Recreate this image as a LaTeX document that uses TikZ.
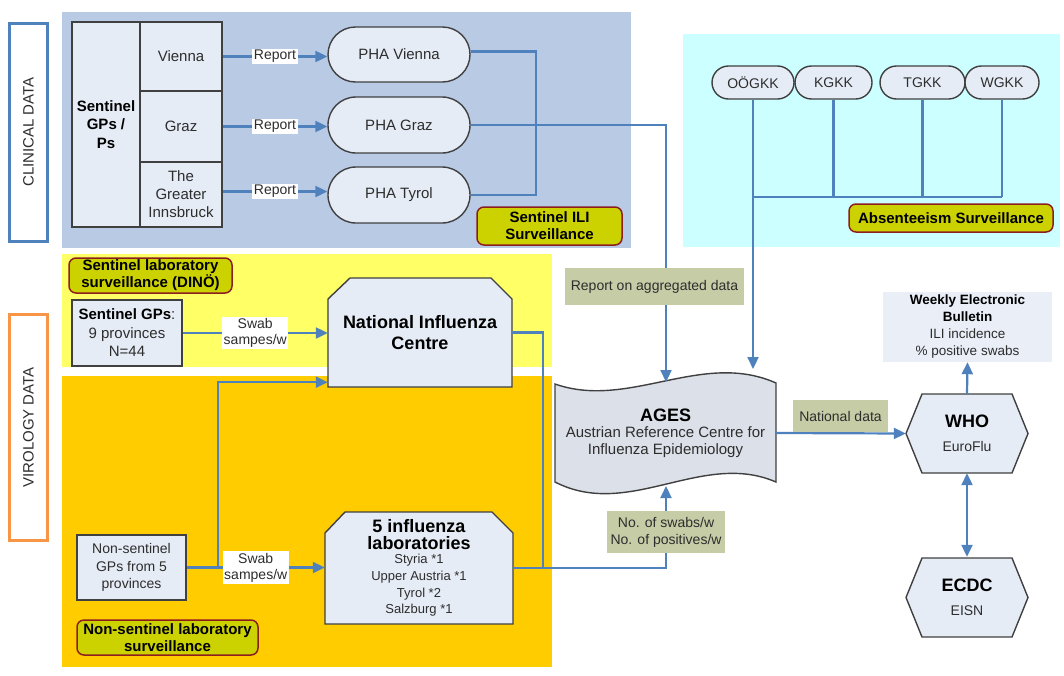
\documentclass[tikz,border=0pt]{standalone}
\usepackage{fontspec}
\setmainfont{Liberation Sans}
\usetikzlibrary{shapes.misc,arrows.meta,calc}
\definecolor{panelblue}{RGB}{184,202,228}
\definecolor{panelcyan}{RGB}{204,255,255}
\definecolor{panelyellow}{RGB}{255,255,102}
\definecolor{panelorange}{RGB}{255,204,0}
\definecolor{nodefill}{RGB}{230,236,246}
\definecolor{agesfill}{RGB}{220,224,232}
\definecolor{bullfill}{RGB}{233,238,247}
\definecolor{linkblue}{RGB}{79,129,189}
\definecolor{tagfill}{RGB}{204,210,0}
\definecolor{tagedge}{RGB}{140,30,30}
\definecolor{notefill}{RGB}{198,204,166}
\definecolor{edgegray}{RGB}{64,64,64}
\definecolor{txtgray}{RGB}{45,45,45}
\definecolor{clinblue}{RGB}{79,129,189}
\definecolor{virorange}{RGB}{247,150,70}
\newcommand\fsz[2]{\fontsize{#1}{#2}\selectfont}
\tikzset{
  box/.style={draw=edgegray, line width=1.4pt, fill=nodefill, inner sep=0pt, align=center, text=txtgray, font=\fsz{15}{18}},
  pill/.style={rounded rectangle, draw=edgegray, line width=1.4pt, fill=nodefill, inner sep=0pt, text=txtgray},
  tag/.style={rounded corners=7pt, draw=tagedge, line width=1.5pt, fill=tagfill, font=\bfseries\fsz{15}{17}, align=center, inner sep=0pt, text=black},
  note/.style={fill=notefill, font=\fsz{14}{17}, align=center, inner sep=0pt, text=txtgray},
  wlabel/.style={fill=white, font=\fsz{14}{16}, align=center, inner sep=1.5pt, text=txtgray},
  conn/.style={draw=linkblue, line width=2.2pt},
  arr/.style={conn, -{Triangle[length=12pt,width=11pt]}},
  outline/.style={draw=edgegray, line width=1.4pt, fill=nodefill},
  sidebox/.style={line width=3pt, fill=white, rotate=90, inner sep=0pt, text=txtgray, font=\fsz{15}{18}},
  hexa/.pic={\draw[outline] (-61,0) -- (-45,-39.5) -- (45,-39.5) -- (61,0) -- (45,39.5) -- (-45,39.5) -- cycle;}
}
\begin{document}
\begin{tikzpicture}[x=1pt,y=-1pt]
\useasboundingbox (0,0) rectangle (1064,675);
% panels
\fill[panelblue] (62,12) rectangle (631,248);
\fill[panelcyan] (683,34) rectangle (1060,247);
\fill[panelyellow] (62,254) rectangle (552,367);
\fill[panelorange] (62,376) rectangle (552,667);
% side boxes
\node[sidebox, draw=clinblue, minimum width=218, minimum height=38] (clin) at (28.5,132) {CLINICAL DATA};
\node[sidebox, draw=virorange, minimum width=226, minimum height=38] (viro) at (28.5,427.5) {VIROLOGY DATA};
% sentinel GP table
\node[box, minimum width=68, minimum height=205, font=\bfseries\fsz{15}{18.5}, text=black] (gps) at (106,124.5) {Sentinel\\GPs /\\Ps};
\node[box, minimum width=82, minimum height=69] (vienna) at (181,56.5) {Vienna};
\node[box, minimum width=82, minimum height=71] (graz) at (181,126.5) {Graz};
\node[box, minimum width=82, minimum height=65] (inn) at (181,194.5) {The\\Greater\\Innsbruck};
% PHA
\node[pill, minimum width=142, minimum height=55, font=\fsz{15}{18}] (phav) at (399,54.5) {PHA Vienna};
\node[pill, minimum width=142, minimum height=56, font=\fsz{15}{18}] (phag) at (399,125) {PHA Graz};
\node[pill, minimum width=142, minimum height=56, font=\fsz{15}{18}] (phat) at (399,195) {PHA Tyrol};
\draw[arr] (vienna.east) -- node[wlabel]{Report} (vienna.east -| phav.west);
\draw[arr] (graz.east) -- node[wlabel]{Report} (graz.east -| phag.west);
\draw[arr] ([yshift=3pt]inn.east) -- node[wlabel]{Report} ([yshift=3pt]inn.east -| phat.west);
\coordinate (bx) at (536,0);
\draw[conn] ([yshift=3pt]phav.east) -- ([yshift=3pt]phav.east -| bx) -- (phat.east -| bx) -- (phat.east);
\node[tag, minimum width=145, minimum height=38] (tili) at (549.5,226) {Sentinel ILI\\Surveillance};
% GKK
\node[pill, minimum width=82, minimum height=33, font=\fsz{14}{17}] (oo) at (753,82.5) {OÖGKK};
\node[pill, minimum width=77, minimum height=33, font=\fsz{14}{17}] (kg) at (833.5,82.5) {KGKK};
\node[pill, minimum width=85, minimum height=33, font=\fsz{14}{17}] (tg) at (922.5,82.5) {TGKK};
\node[pill, minimum width=74, minimum height=33, font=\fsz{14}{17}] (wg) at (1002,82.5) {WGKK};
\node[tag, minimum width=204, minimum height=28] (tabs) at (951,218) {Absenteeism Surveillance};
% AGES shape
\draw[draw=edgegray, line width=1.4pt, fill=agesfill] (555,384) .. controls (629,410) and (702,350) .. (776,383) -- (776,482) .. controls (702,450) and (629,520) .. (555,482) -- cycle;
\node[minimum width=221, minimum height=98, inner sep=0pt, align=center, text=txtgray, font=\fsz{15}{17}] (ages) at (665.5,433) {{\bfseries\fsz{18}{20}\color{black}AGES}\\[-1pt]Austrian Reference Centre for\\Influenza Epidemiology};
\coordinate (agesin) at (666,382);
\coordinate (agesin2) at (753,369);
\coordinate (agesout) at (666,486);
\coordinate (hy) at (0,197);
\draw[arr] (phag.east) -| (agesin);
\node[note, minimum width=179, minimum height=37] (nrep) at (654.5,286.5) {Report on aggregated data};
\draw[arr] (oo.south) -- (agesin2);
\draw[conn] (kg.south) -- (kg.south |- hy);
\draw[conn] (tg.south) -- (tg.south |- hy);
\draw[conn] (wg.south) -- (wg.south |- hy);
\draw[conn] (oo.south |- hy) -- (wg.south |- hy);
% virology
\node[tag, minimum width=163, minimum height=35] (tdino) at (150.5,275.5) {Sentinel laboratory\\surveillance (DINÖ)};
\node[box, minimum width=110, minimum height=66, font=\fsz{15}{18.5}] (sgp) at (127,333) {{\bfseries\color{black}Sentinel GPs}:\\9 provinces\\N=44};
\draw[outline] (328,387) -- (328,299) -- (350,278) -- (491,278) -- (512,299) -- (512,387) -- cycle;
\node[minimum width=184, minimum height=109, inner sep=0pt, align=center, font=\bfseries\fsz{18}{21}] (nic) at (420,332.5) {National Influenza\\Centre};
\draw[outline] (325,624) -- (325,533) -- (345,512) -- (492,512) -- (513,533) -- (513,624) -- cycle;
\node[minimum width=188, minimum height=112, inner sep=0pt, align=center, text=txtgray, font=\fsz{13}{16.7}] (labs) at (419,568) {{\bfseries\fsz{18}{21}\color{black}5 influenza}\\{\bfseries\fsz{18}{21}\color{black}laboratories}\\[-2pt]Styria *1\\Upper Austria *1\\Tyrol *2\\Salzburg *1};
\node[box, minimum width=109, minimum height=65, font=\fsz{14}{17.5}] (nsg) at (131.5,567.5) {Non-sentinel\\GPs from 5\\provinces};
\node[tag, minimum width=181, minimum height=35] (tnon) at (167.5,637.5) {Non-sentinel laboratory\\surveillance};
\draw[arr] (sgp.east) -- node[wlabel]{Swab\\sampes/w} (sgp.east -| nic.west);
\coordinate (br) at (218,0);
\draw[arr] (nsg.east -| br) |- ([yshift=5pt]nic.south west);
\draw[arr] (nsg.east) -- node[wlabel]{Swab\\sampes/w} (nsg.east -| labs.west);
\coordinate (vx) at (543,0);
\draw[conn] (nic.east) -- (nic.east -| vx) -- (labs.east -| vx);
\draw[arr] (labs.east) -| (agesout);
\node[note, minimum width=118, minimum height=42] (nswab) at (666,532) {No. of swabs/w\\No. of positives/w};
% WHO / ECDC
\pic at (967,433.5) {hexa};
\node[minimum width=122, minimum height=79, inner sep=0pt, align=center, text=txtgray, font=\fsz{14}{24}] (who) at (967,433.5) {{\bfseries\fsz{18}{24}\color{black}WHO}\\EuroFlu};
\pic at (967,597.5) {hexa};
\node[minimum width=122, minimum height=81, inner sep=0pt, align=center, text=txtgray, font=\fsz{14}{24}] (ecdc) at (967,597.5) {{\bfseries\fsz{18}{24}\color{black}ECDC}\\EISN};
\node[fill=bullfill, minimum width=169, minimum height=70, align=center, inner sep=0pt, text=txtgray, font=\fsz{13.5}{17}] (bull) at (967.5,327) {{\bfseries\color{black}Weekly Electronic}\\{\bfseries\color{black}Bulletin}\\ILI incidence\\\% positive swabs};
\draw[arr] (ages.east) -- (who.west);
\node[note, minimum width=95, minimum height=32] (nnat) at (840.5,416) {National data};
\draw[arr] (who.north) -- (bull.south);
\draw[conn, {Triangle[length=12pt,width=11pt]}-{Triangle[length=12pt,width=11pt]}] (who.south) -- (ecdc.north);
\end{tikzpicture}
\end{document}
